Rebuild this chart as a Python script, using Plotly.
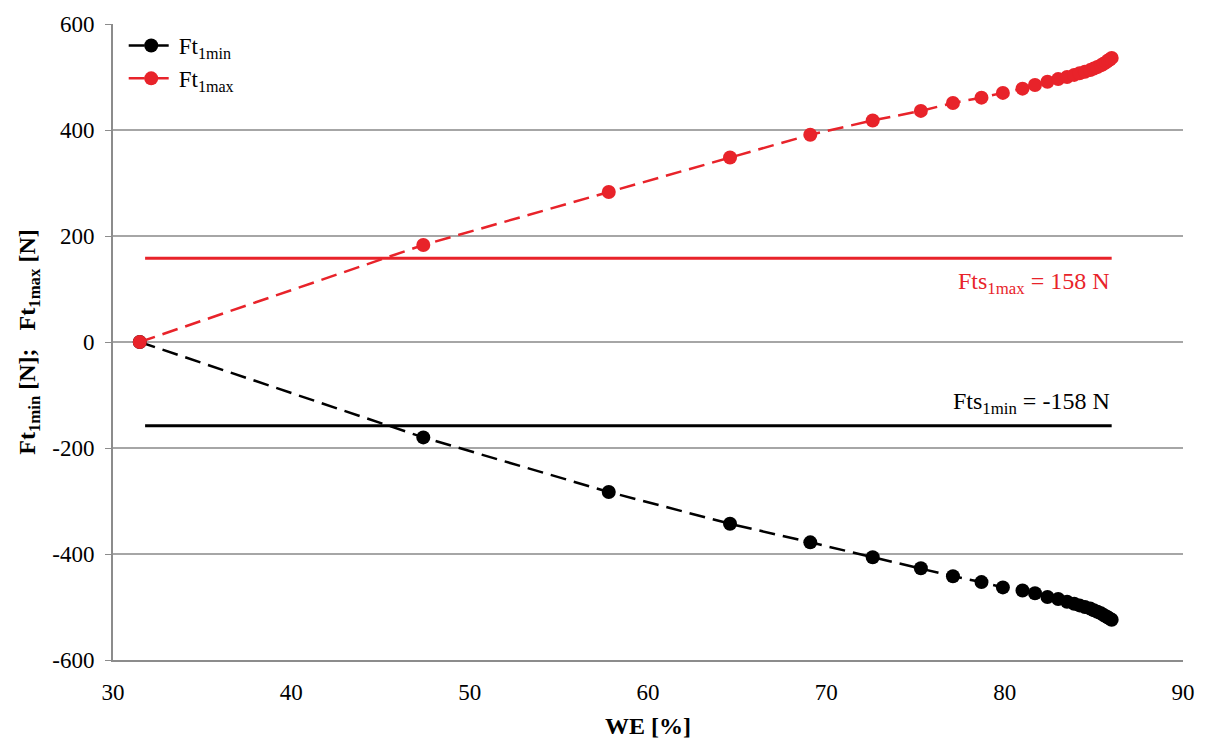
import plotly.graph_objects as go

we = [31.5, 47.4, 57.8, 64.6, 69.1, 72.6, 75.3, 77.1, 78.7, 79.9, 81.0, 81.7, 82.4,
      83.0, 83.5, 83.9, 84.2, 84.5, 84.8, 85.0, 85.2, 85.4, 85.55, 85.7, 85.8, 85.9, 86.0]
ft_max = [0, 183, 283, 348, 391, 418, 436, 451, 461, 470, 478, 485, 491,
          496, 500, 504, 507, 510, 513, 516, 519, 522, 525, 528, 531, 533, 536]
ft_min = [0, -180, -283, -343, -378, -406, -427, -442, -453, -463, -469, -474, -481,
          -485, -490, -494, -497, -500, -503, -506, -509, -512, -515, -518, -520, -522, -524]
fts_x = [31.8, 86.0]
fts_max = 158
fts_min = -158
y_ticks = [-600, -400, -200, 0, 200, 400, 600]
y_ticktext = ["-600", "-400", "-200", "0", "200", "400", "600"]

FONT = "Liberation Serif"
fig = go.Figure()
fig.add_trace(go.Scatter(x=fts_x, y=[fts_max, fts_max], mode="lines",
                         line=dict(color="#e8232a", width=3), showlegend=False))
fig.add_trace(go.Scatter(x=fts_x, y=[fts_min, fts_min], mode="lines",
                         line=dict(color="#000000", width=3), showlegend=False))
fig.add_trace(go.Scatter(x=we, y=ft_min, mode="lines+markers", name="Ft<sub>1min</sub>",
                         line=dict(color="#000000", width=2.5, dash="16px,8px"),
                         marker=dict(color="#000000", size=14)))
fig.add_trace(go.Scatter(x=we, y=ft_max, mode="lines+markers", name="Ft<sub>1max</sub>",
                         line=dict(color="#e8232a", width=2.5, dash="16px,8px"),
                         marker=dict(color="#e8232a", size=14)))

fig.add_annotation(x=86.0, y=fts_max, yshift=-8, xanchor="right", yanchor="top",
                   text="Fts<sub>1max</sub> = 158 N", showarrow=False,
                   font=dict(family=FONT, size=24, color="#e8232a"))
fig.add_annotation(x=86.0, y=fts_min, yshift=6, xanchor="right", yanchor="bottom",
                   text="Fts<sub>1min</sub> = -158 N", showarrow=False,
                   font=dict(family=FONT, size=24, color="#000000"))

fig.update_layout(
    width=1207, height=747,
    margin=dict(l=113, r=20, t=19, b=87),
    paper_bgcolor="white", plot_bgcolor="white",
    font=dict(family=FONT, size=22, color="#000000"),
    legend=dict(x=0.01, y=1.0, xanchor="left", yanchor="top", tracegroupgap=0,
                itemwidth=45, bgcolor="rgba(255,255,255,0)",
                font=dict(family=FONT, size=23)),
    xaxis=dict(range=[30, 90], dtick=10, showgrid=False, showline=True,
               linecolor="#8c8c8c", linewidth=2, ticks="", zeroline=False,
               ticklabelstandoff=10, tickfont=dict(size=23),
               title=dict(text="<b>WE [%]</b>", font=dict(family=FONT, size=24), standoff=14)),
    yaxis=dict(range=[-600, 600], tickvals=y_ticks, ticktext=y_ticktext,
               showgrid=True, gridcolor="#a6a6a6", gridwidth=1.5,
               showline=True, linecolor="#8c8c8c", linewidth=2, ticks="outside",
               ticklen=6, tickcolor="#8c8c8c", zeroline=False,
               ticklabelstandoff=6, tickfont=dict(size=23),
               title=dict(text="<b>Ft<sub>1min</sub> [N];   Ft<sub>1max</sub> [N]</b>",
                          font=dict(family=FONT, size=24), standoff=10)),
)
fig.write_html("out.html")
